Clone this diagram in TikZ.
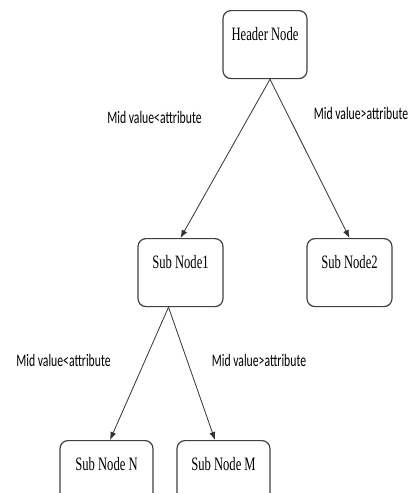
\documentclass[tikz,border=0pt]{standalone}
\usepackage{fontspec}
\setmainfont{Liberation Serif}
\newfontfamily\labelfont{Carlito}
\usepackage{graphicx}
\usetikzlibrary{arrows.meta}
\newcommand{\tall}[1]{\scalebox{1}[1.5]{#1}}

\begin{document}
\begin{tikzpicture}[
  x=1pt, y=-1pt,
  box/.style={draw=black!75, line width=1.2pt, rounded corners=8pt, anchor=north, align=center,
    minimum width=85pt, inner ysep=8pt, text height=22pt, text depth=30pt,
    font=\fontsize{12.6}{14}\selectfont},
  cond/.style={inner sep=0pt, font=\labelfont\fontsize{11.7}{14}\selectfont},
  arrow/.style={-{Latex[length=8pt, width=6pt]}, draw=black!80, line width=0.8pt}
]
\useasboundingbox (0,0) rectangle (409,493);

\node (header) [box, minimum width=84pt] at (265,10) {\tall{Header Node}};
\node (sub1) [box] at (180.5,238) {\tall{Sub Node1}};
\node (sub2) [box] at (349.5,238) {\tall{Sub Node2}};
\node (subN) [box, minimum width=93pt] at (106.5,440) {\tall{Sub Node N}};
\node (subM) [box, minimum width=93pt] at (223.5,440) {\tall{Sub Node M}};

\node (condL1) [cond] at (154.5,117) {\tall{Mid value<attribute}};
\node (condR1) [cond] at (361,113) {\tall{Mid value>attribute}};
\node (condL2) [cond] at (63.5,360) {\tall{Mid value<attribute}};
\node (condR2) [cond] at (259,360) {\tall{Mid value>attribute}};

\draw [arrow] ([xshift=5pt]header.south) -- (sub1.north);
\draw [arrow] ([xshift=5pt]header.south) -- (sub2.north);
\draw [arrow] ([xshift=-12pt]sub1.south) -- ([xshift=3.5pt]subN.north);
\draw [arrow] ([xshift=-12pt]sub1.south) -- ([xshift=-8.5pt]subM.north);
\end{tikzpicture}
\end{document}
